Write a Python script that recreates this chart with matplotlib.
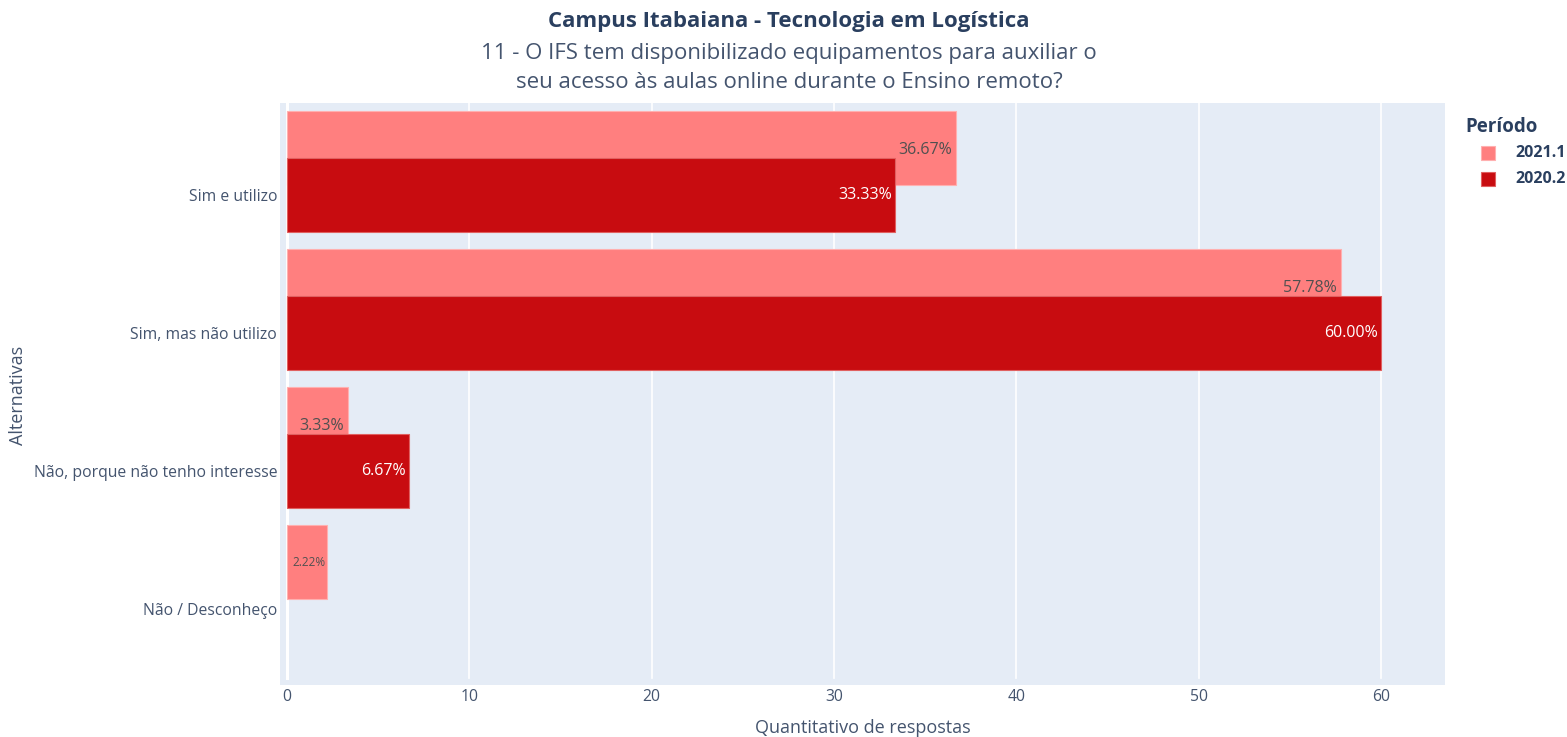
import matplotlib.pyplot as plt
import matplotlib as mpl
import numpy as np

mpl.rcParams['font.family'] = ['Open Sans', 'DejaVu Sans']

# Data
categorias = ["Sim e utilizo", "Sim, mas não utilizo",
              "Não, porque não tenho interesse", "Não / Desconheço"]
periodos = ["2021.1", "2020.2"]
valores_2021_1 = [36.67, 57.78, 3.33, 2.22]
valores_2020_2 = [33.33, 60.00, 6.67, 0.0]

cor_2021_1 = '#FF7F7F'
cor_2020_2 = '#C80C10'
borda_2021_1 = '#FFB0B0'
borda_2020_2 = '#E06060'
cor_texto = '#2a3f5f'
cor_eixo = '#44546e'
bg = '#E5ECF6'

W, H = 1567, 737
fig = plt.figure(figsize=(W / 100, H / 100), dpi=100)
fig.patch.set_facecolor('white')

# plot area in pixels
left, right, top, bottom = 280, 1445, 103, 685
ax = fig.add_axes([left / W, 1 - bottom / H, (right - left) / W, (bottom - top) / H])
ax.set_facecolor(bg)
for s in ax.spines.values():
    s.set_visible(False)

y = np.arange(len(categorias))
altura = 0.54
desloc = 0.34

ax.set_xlim(-0.38, 63.5)
ax.set_ylim(3.55, -0.667)

# gridlines
for xv in [10, 20, 30, 40, 50, 60]:
    ax.plot([xv, xv], [-0.667, 3.5], color='white', lw=1.2, zorder=0)
ax.plot([0, 0], [-0.667, 3.5], color='white', lw=2.2, zorder=0)

ax.barh(y - desloc, valores_2021_1, height=altura, color=cor_2021_1,
        edgecolor=[borda_2021_1 if v > 0 else 'none' for v in valores_2021_1],
        linewidth=0.8, zorder=2, label=periodos[0])
ax.barh(y, valores_2020_2, height=altura, color=cor_2020_2,
        edgecolor=[borda_2020_2 if v > 0 else 'none' for v in valores_2020_2],
        linewidth=0.8, zorder=3, label=periodos[1])

# bar labels (inside, at end)
px = 63.88 / (right - left)  # data units per pixel
for yi, v in zip(y - desloc, valores_2021_1):
    if v <= 0:
        continue
    if v > 3:
        ax.text(v - 4 * px, yi + 0.01, f"{v:.2f}%", ha='right', va='center',
                fontsize=11.5, color='#505050', zorder=2.5)
    else:
        ax.text(v - 2 * px, yi, f"{v:.2f}%", ha='right', va='center',
                fontsize=8.5, color='#505050', zorder=2.5)
for yi, v in zip(y, valores_2020_2):
    if v <= 0:
        continue
    ax.text(v - 3 * px, yi, f"{v:.2f}%", ha='right', va='center',
            fontsize=11.5, color='white', zorder=4)

ax.set_xticks([0, 10, 20, 30, 40, 50, 60])
ax.set_yticks(y)
ax.set_yticklabels(categorias)
ax.tick_params(axis='both', length=0, labelsize=11.3, labelcolor=cor_eixo)
ax.tick_params(axis='x', pad=3)
ax.tick_params(axis='y', pad=2)

fig.text(18 / W, 1 - 395 / H, 'Alternativas', rotation=90, ha='center', va='center',
         fontsize=13, color=cor_eixo)
fig.text(863 / W, 1 - 728 / H, 'Quantitativo de respostas', ha='center', va='center',
         fontsize=13, color=cor_eixo)

# titles
fig.text(789 / W, 1 - 22 / H, 'Campus Itabaiana - Tecnologia em Logística', ha='center',
         va='center', fontsize=16, fontweight='bold', color=cor_texto)
fig.text(789 / W, 1 - 54 / H, '11 - O IFS tem disponibilizado equipamentos para auxiliar o',
         ha='center', va='center', fontsize=16, color=cor_eixo)
fig.text(789 / W, 1 - 82 / H, 'seu acesso às aulas online durante o Ensino remoto?',
         ha='center', va='center', fontsize=16, color=cor_eixo)

# legend
fig.text(1465 / W, 1 - 127 / H, 'Período', ha='left', va='center', fontsize=13.5,
         fontweight='bold', color=cor_texto)
for i, (p, c, ec) in enumerate(zip(periodos, [cor_2021_1, cor_2020_2],
                                   [borda_2021_1, borda_2020_2])):
    yy = 153 + 26 * i
    fig.patches.append(mpl.patches.Rectangle((1481 / W, 1 - (yy + 7) / H), 14 / W, 14 / H,
                                             transform=fig.transFigure, facecolor=c,
                                             edgecolor=ec, linewidth=0.8))
    fig.text(1515 / W, 1 - yy / H, p, ha='left', va='center', fontsize=11.5,
             fontweight='bold', color=cor_texto)

fig.savefig('out.png', dpi=100)
